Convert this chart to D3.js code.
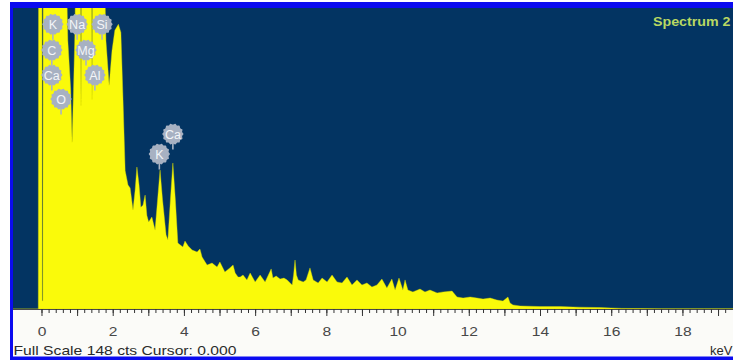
<!DOCTYPE html>
<html><head><meta charset="utf-8">
<script src="https://cdn.jsdelivr.net/npm/d3@7"></script>
<style>html,body{margin:0;padding:0;background:#fff;overflow:hidden}</style>
</head><body>
<svg id="c" width="733" height="361"></svg>
<script>
// Spectrum data: energy (keV) and counts
const energy = [
 -0.80,-0.09,-0.08,0.01,0.02,0.04,0.05,0.66,0.74,0.82,
 0.86,0.90,0.94,0.98,1.09,1.11,1.13,1.40,1.42,1.44,
 1.73,1.81,1.90,1.98,2.06,2.16,2.23,2.29,2.35,2.43,
 2.49,2.57,2.63,2.68,2.74,2.79,2.85,2.91,2.96,3.01,
 3.10,3.19,3.26,3.33,3.40,3.50,3.55,3.62,3.69,3.76,
 3.83,3.97,4.03,4.12,4.23,4.37,4.45,4.51,4.65,4.79,
 4.93,5.01,5.15,5.29,5.38,5.44,5.52,5.58,5.66,5.77,
 5.86,6.00,6.14,6.28,6.45,6.50,6.59,6.70,6.81,6.90,
 7.04,7.08,7.12,7.16,7.21,7.35,7.43,7.54,7.63,7.77,
 7.88,8.02,8.16,8.30,8.44,8.58,8.72,8.86,9.00,9.14,
 9.28,9.42,9.56,9.70,9.84,9.93,10.04,10.15,10.21,10.29,
 10.43,10.63,10.77,10.91,11.11,11.28,11.53,11.67,11.84,12.04,
 12.23,12.40,12.60,12.79,12.96,13.10,13.16,13.24,13.44,14.00,
 14.56,15.10,15.69,16.30,16.81,17.40,17.93,18.60,19.42
];
const counts = [
 0,0,200,200,4,4,200,200,132,108,
 82,108,137,200,200,100,200,200,103,200,
 200,132,110,127,137,140,136,103,68,61,
 59.5,48.7,58.5,69.8,61,50,51,56,46,42.8,
 45.2,38.8,53.6,68.3,53.6,36.4,34,53.6,71.8,53.6,
 32.4,30.5,33.4,31,29,28,29.5,25.6,21.6,22.6,
 20.6,23.1,18.2,20.2,21.6,17.7,15.7,15.7,16.7,14.3,
 17.7,13.3,16.7,13.3,19.7,15.2,16.2,14.7,15.2,14.3,
 11.8,16.7,24.1,16.7,14.3,13.3,14.3,20.2,14.3,12.8,
 15.2,13.3,16.7,13.3,12.8,15.7,11.8,14.3,11.8,12.8,
 10.8,11.8,14.7,10.3,14.7,9.3,15.2,9.3,14.3,9.3,
 8.4,9.8,8.4,9.3,7.9,8.4,8.8,5.9,5.4,5.9,
 5.4,4.9,5.4,4.4,3.9,5.9,2.9,2.0,1.5,1.2,
 1.2,0.9,0.7,0.3,0.2,0.1,0.1,0.1,0.1
];
// Element markers
const labelNames  = ["K","Na","Si","C","Mg","Ca","Al","O","Ca","K"];
const labelKeV    = [0.32,1.00,1.70,0.29,1.25,0.29,1.50,0.55,3.69,3.31];
const labelCounts = [140,140,140,127.3,127.3,115,115,103.2,86,76.2];
const majorTicks = d3.range(0, 20, 1);
const minorTicks = d3.range(0, 97).map(i => +(i * 0.2).toFixed(1));
const fullScale = 148;
const title = "Spectrum 2";
const footer = "Full Scale 148 cts Cursor: 0.000";
const unit = "keV";

const svg = d3.select("#c");
const L = 13, R = 733, T = 8, B = 309;
const x = d3.scaleLinear().domain([-0.8, 19.42]).range([L, R]);
const y = d3.scaleLinear().domain([0, fullScale]).range([B, T]);

// frame
svg.append("rect").attr("x", 10).attr("y", 2).attr("width", 730).attr("height", 358).attr("fill", "#0b0bf0");
svg.append("rect").attr("x", L).attr("y", T).attr("width", R - L + 5).attr("height", B - T).attr("fill", "#033462");
svg.append("rect").attr("x", L).attr("y", B).attr("width", R - L + 5).attr("height", 356.5 - B).attr("fill", "#fbfbf8");

svg.append("defs").append("clipPath").attr("id", "pc")
  .append("rect").attr("x", L).attr("y", T).attr("width", R - L).attr("height", B - T);

const data = energy.map((e, i) => ({e, c: counts[i]}));
const area = d3.area().x(d => x(d.e)).y0(B).y1(d => y(d.c));
svg.append("path").datum(data).attr("clip-path", "url(#pc)")
  .attr("d", area).attr("fill", "#fafa0a").attr("stroke", "#d8d800").attr("stroke-width", 0.4);

// axis
svg.append("line").attr("x1", L).attr("x2", R).attr("y1", B + 0.5).attr("y2", B + 0.5)
  .attr("stroke", "#4a4a4a").attr("stroke-width", 1.2);
const gMin = svg.append("g").attr("transform", `translate(0,${B})`)
  .call(d3.axisBottom(x).tickValues(minorTicks).tickSize(4).tickFormat(""));
gMin.select(".domain").remove();
gMin.selectAll("line").attr("stroke", "#333");
const gMaj = svg.append("g").attr("transform", `translate(0,${B})`)
  .call(d3.axisBottom(x).tickValues(majorTicks).tickSize(7).tickPadding(11)
    .tickFormat(d => d % 2 === 0 ? d : ""));
gMaj.select(".domain").remove();
gMaj.selectAll("line").attr("stroke", "#333");
gMaj.selectAll("text").attr("font-family", "Liberation Sans, Arial, sans-serif")
  .attr("font-size", 13).attr("fill", "#474747").attr("transform", "scale(1.2,1)");

// texts
svg.append("text").attr("x", L + 0.5).attr("y", 355).text(footer)
  .attr("font-family", "Liberation Sans, Arial, sans-serif").attr("font-size", 13)
  .attr("fill", "#2a2a2a").attr("textLength", 223).attr("lengthAdjust", "spacingAndGlyphs");
svg.append("text").attr("x", 710).attr("y", 355).text(unit)
  .attr("font-family", "Liberation Sans, Arial, sans-serif").attr("font-size", 13)
  .attr("fill", "#2a2a2a");
svg.append("text").attr("transform", "translate(653,26) scale(1.14,1)").text(title)
  .attr("font-family", "Liberation Sans, Arial, sans-serif").attr("font-size", 12.5)
  .attr("font-weight", "bold").attr("fill", "#b9d862");

// element markers
const r = 9.5;
const gear = d3.lineRadial().curve(d3.curveCardinalClosed)
  .angle((d, i) => i * 2 * Math.PI / 28).radius((d, i) => i % 2 ? r + 1.1 : r);
const gearPts = d3.range(28);
const m = svg.append("g").selectAll("g").data(labelNames).join("g")
  .attr("transform", (d, i) => `translate(${x(labelKeV[i])},${y(labelCounts[i])})`);
m.append("line").attr("x1", 0).attr("x2", 0).attr("y1", r - 1).attr("y2", r + 6)
  .attr("stroke", "#a9b3c3").attr("stroke-width", 1.6);
m.append("path").attr("d", gear(gearPts)).attr("fill", "#a7b1c2");
m.append("text").text(d => d).attr("text-anchor", "middle").attr("dy", "0.37em")
  .attr("font-family", "Liberation Sans, Arial, sans-serif").attr("font-size", 12.5)
  .attr("fill", "#f3f5f8");
</script>
</body></html>
